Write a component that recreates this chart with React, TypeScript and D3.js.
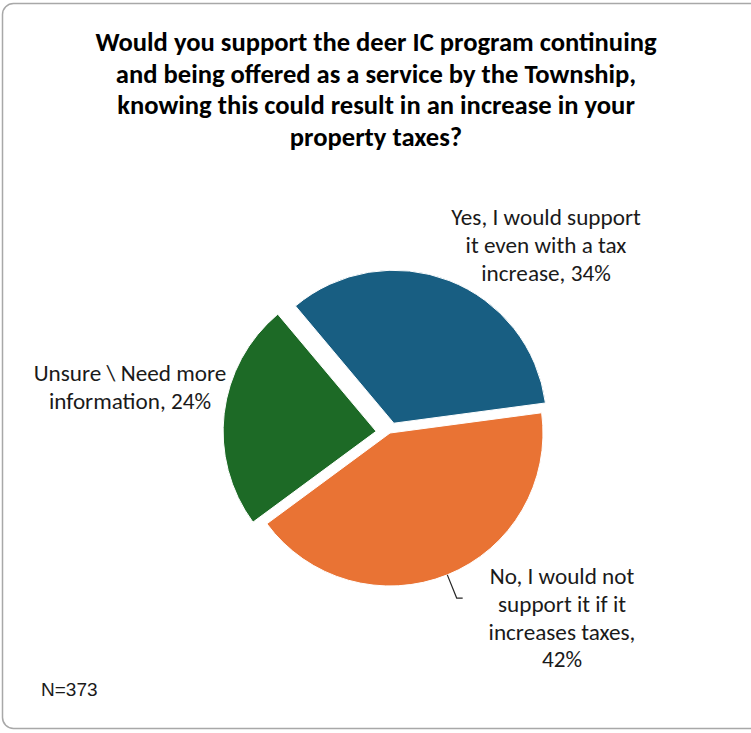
import React from 'react';
import * as d3 from 'd3';

// ---- data ----
const titleLines = [
  'Would you support the deer IC program continuing',
  'and being offered as a service by the Township,',
  'knowing this could result in an increase in your',
  'property taxes?',
];
const categories = [
  'Yes, I would support it even with a tax increase',
  'No, I would not support it if it increases taxes',
  'Unsure \\ Need more information',
];
const values = [34, 42, 24];
const labelLines = [
  ['Yes, I would support', 'it even with a tax', 'increase, {p}'],
  ['No, I would not', 'support it if it', 'increases taxes,', '{p}'],
  ['Unsure \\ Need more', 'information, {p}'],
];
const sliceColors = ['#185E82', '#E97334', '#1D6A26'];
const sampleNote = 'N=373';

// ---- layout ----
const W = 751;
const H = 733;
const cx = 390;
const cy = 433;
const R = 153;
const explode = [10.5, 0, 14];
const startDeg = -40;
const labelAnchors = [
  { x: 546, y: 225 },
  { x: 562, y: 584 },
  { x: 130, y: 381 },
];
const leaderFor = [false, true, false];
const labelLineH = 27.8;
const labelFont = "Carlito, Lato, 'Open Sans', sans-serif";

export default function App() {
  const start = (startDeg * Math.PI) / 180;
  const pie = d3
    .pie<number>()
    .sort(null)
    .value((d) => d)
    .startAngle(start)
    .endAngle(start + 2 * Math.PI);
  const arcs = pie(values);
  const arcGen = d3.arc<d3.PieArcDatum<number>>().innerRadius(0).outerRadius(R);

  return (
    <svg
      width={W}
      height={H}
      style={{ position: 'absolute', left: 0, top: 0, background: '#fff' }}
    >
      <rect x={2.5} y={3.5} width={W + 20} height={725} rx={11} fill="#fff" stroke="#a8a8a8" strokeWidth={1.5} />
      <g fontFamily={labelFont} fontWeight={700} fontSize={26.6} textAnchor="middle" fill="#000">
        {titleLines.map((t, i) => (
          <text key={i} x={376} y={51 + i * 31.7}>
            {t}
          </text>
        ))}
      </g>
      <g transform={`translate(${cx},${cy})`}>
        {arcs.map((a, i) => {
          const mid = (a.startAngle + a.endAngle) / 2;
          const dx = Math.sin(mid) * explode[i];
          const dy = -Math.cos(mid) * explode[i];
          return (
            <path
              key={categories[i]}
              d={arcGen(a) || ''}
              transform={`translate(${dx},${dy})`}
              fill={sliceColors[i]}
              stroke="#fff"
              strokeWidth={1}
            />
          );
        })}
        {arcs.map((a, i) => {
          if (!leaderFor[i]) return null;
          const mid = (a.startAngle + a.endAngle) / 2;
          const x0 = Math.sin(mid) * (R + explode[i]);
          const y0 = -Math.cos(mid) * (R + explode[i]);
          const x1 = Math.sin(mid) * (R + explode[i] + 25);
          const y1 = -Math.cos(mid) * (R + explode[i] + 25);
          return (
            <path
              key={'l' + i}
              d={`M${x0},${y0}L${x1},${y1}L${x1 + 6},${y1}`}
              fill="none"
              stroke="#262626"
              strokeWidth={1.2}
            />
          );
        })}
      </g>
      <g fontFamily={labelFont} fontSize={23.2} textAnchor="middle" fill="#1a1a1a">
        {labelLines.map((lines, i) => (
          <text key={i}>
            {lines.map((ln, j) => (
              <tspan key={j} x={labelAnchors[i].x} y={labelAnchors[i].y + j * labelLineH}>
                {ln.replace('{p}', values[i] + '%')}
              </tspan>
            ))}
          </text>
        ))}
      </g>
      <text x={41} y={696} fontFamily="'Liberation Sans', Arial, sans-serif" fontSize={19} fill="#1a1a1a">
        {sampleNote}
      </text>
    </svg>
  );
}
